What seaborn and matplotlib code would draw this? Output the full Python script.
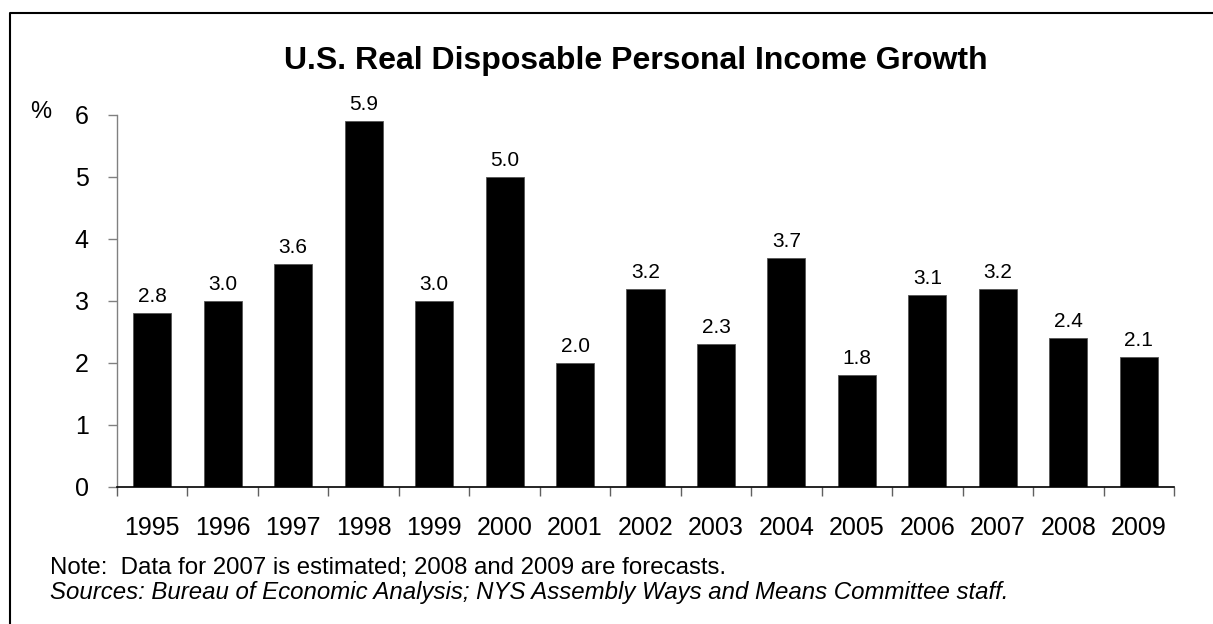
import matplotlib
matplotlib.use("Agg")
import matplotlib.pyplot as plt
from matplotlib.lines import Line2D
import seaborn as sns
import pandas as pd

years = ["1995", "1996", "1997", "1998", "1999", "2000", "2001", "2002",
         "2003", "2004", "2005", "2006", "2007", "2008", "2009"]
growth = [2.8, 3.0, 3.6, 5.9, 3.0, 5.0, 2.0, 3.2, 2.3, 3.7, 1.8, 3.1, 3.2, 2.4, 2.1]
y_ticks = [0, 1, 2, 3, 4, 5, 6]

title = "U.S. Real Disposable Personal Income Growth"
note = "Note:  Data for 2007 is estimated; 2008 and 2009 are forecasts."
sources = "Sources: Bureau of Economic Analysis; NYS Assembly Ways and Means Committee staff."

df = pd.DataFrame({"year": years, "growth": growth})

sns.set_theme(style="white")
plt.rcParams["font.family"] = ["Liberation Sans", "DejaVu Sans"]
plt.rcParams["text.color"] = "black"
plt.rcParams["xtick.color"] = "black"
plt.rcParams["ytick.color"] = "black"

W, H = 1213, 624
fig = plt.figure(figsize=(W / 100, H / 100), dpi=100)
ax = fig.add_axes([117 / W, 1 - 487 / H, (1174 - 117) / W, (487 - 115) / H])

sns.barplot(data=df, x="year", y="growth", color="black", width=0.54,
            saturation=1, edgecolor="#555555", linewidth=0.6, ax=ax)

ax.bar_label(ax.containers[0], fmt="%.1f", padding=5, fontsize=15, color="black")

ax.set_xlim(-0.5, len(years) - 0.5)
ax.set_ylim(0, 6)
ax.set_yticks(y_ticks)
ax.set_xlabel("")
ax.set_ylabel("")

for side in ("top", "right"):
    ax.spines[side].set_visible(False)
ax.spines["left"].set_color("#808080")
ax.spines["left"].set_linewidth(1.0)
ax.spines["bottom"].set_color("black")
ax.spines["bottom"].set_linewidth(1.2)

ax.tick_params(axis="y", which="major", left=True, length=6.5, width=1.0,
               color="#808080", direction="out", labelsize=18, pad=14,
               labelcolor="black")
ax.tick_params(axis="x", which="major", bottom=False, length=0,
               labelsize=18, pad=21, labelcolor="black")
ax.set_xticks([i - 0.5 for i in range(len(years) + 1)], minor=True)
ax.tick_params(axis="x", which="minor", bottom=True, length=6.5, width=1.0,
               color="#606060", direction="out")

fig.text(636 / W, 1 - 69 / H, title, ha="center", va="baseline",
         fontsize=23, fontweight="bold", color="black")
fig.text(41 / W, 1 - 118 / H, "%", ha="center", va="baseline", fontsize=17,
         color="black")
fig.text(50 / W, 1 - 574 / H, note, ha="left", va="baseline", fontsize=17.3,
         color="black")
fig.text(50 / W, 1 - 599 / H, sources, ha="left", va="baseline", fontsize=17.3,
         style="italic", color="black")

# frame around the chart (left and top edges)
fig.add_artist(Line2D([9.5 / W, 9.5 / W, 1.0], [0.0, 1 - 13 / H, 1 - 13 / H],
                      transform=fig.transFigure, color="black", linewidth=1.5))

fig.savefig("out.png", dpi=100, facecolor="white")
